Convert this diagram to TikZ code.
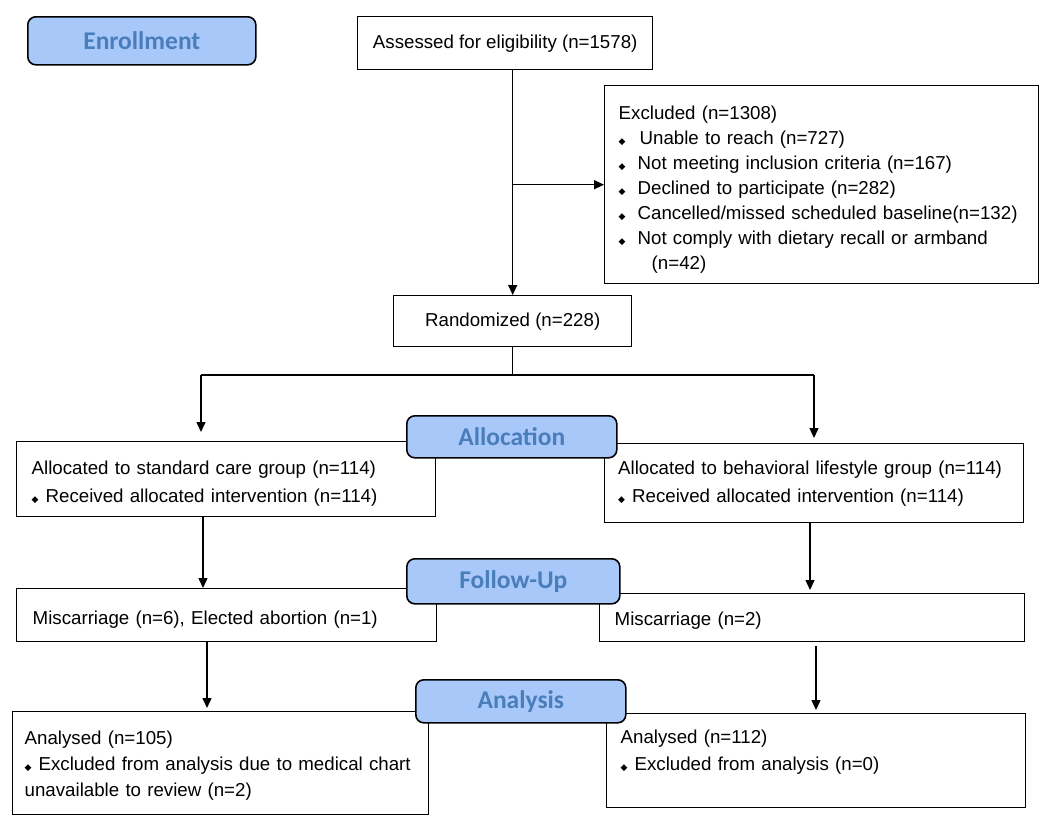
\documentclass[tikz,border=0pt]{standalone}
\usepackage{fontspec}
\setmainfont{Liberation Sans}
\newfontfamily\stagefont{Carlito}
\newfontfamily\symfont{DejaVu Sans}
\usetikzlibrary{arrows.meta}
\definecolor{stagefill}{RGB}{168,200,250}
\definecolor{stagetext}{RGB}{74,126,187}
\newcommand{\bul}[1][7pt]{{\symfont\fontsize{9}{9}\selectfont ◆}\hspace{#1}}
\newcommand{\nohyph}{\hyphenpenalty=10000\relax}
\tikzset{
  box/.style={draw, line width=1.4pt, anchor=north west, inner ysep=0pt, font=\fontsize{18.7}{25}\selectfont\nohyph},
  stage/.style={draw, line width=1.6pt, rounded corners=8pt, fill=stagefill, anchor=north west, inner sep=0pt, text=stagetext, font=\stagefont\bfseries\fontsize{25.5}{27}\selectfont},
  arr/.style={-{Triangle[length=10pt,width=9pt]}, line width=1.4pt},
  link/.style={line width=1.4pt}
}
\begin{document}
\begin{tikzpicture}[x=1pt, y=-1pt]
			\useasboundingbox (0,0) rectangle (1050,827);
			
			%%%%% boxes %%%%%
			\node[box, align=center, minimum width=295pt, minimum height=53pt] (assess) at (357,16) {Assessed for eligibility (n=1578)};
			\node[box, align=left, text width=406pt, inner xsep=14pt, minimum height=198pt] (excl) at (604,85) {\rule{0pt}{24pt}Excluded (n=1308)\\
				\bul[14pt]Unable to reach (n=727)\\
				\bul[12pt]Not meeting inclusion criteria (n=167)\\
				\bul[12pt]Declined to participate (n=282)\\
				\bul[12pt]Cancelled/missed scheduled baseline(n=132)\\
				\bul[12pt]Not comply with dietary recall or armband\\
				\hspace{33pt}(n=42)};
			\node[box, align=center, minimum width=238pt, minimum height=51pt] (rand) at (393,295) {Randomized (n=228)};
			
			\node[box, align=left, text width=389pt, inner xsep=15pt, minimum height=75pt] (std) at (16,441) {\rule{0pt}{22pt}Allocated to standard care group (n=114)\\[3pt] \bul Received allocated intervention (n=114)};
			\node[box, align=left, text width=392pt, inner xsep=13.5pt, minimum height=79pt] (beh) at (604,443) {Allocated to behavioral lifestyle group (n=114)\\[3pt] \bul Received allocated intervention (n=114)};
			
			\node[box, align=left, text width=388pt, inner xsep=16pt, minimum height=53pt] (misc1) at (16,588) {\rule{0pt}{22pt}Miscarriage (n=6), Elected abortion (n=1)};
			\node[box, align=left, text width=395pt, inner xsep=15pt, minimum height=48pt] (misc2) at (599,593) {\rule{0pt}{20pt}Miscarriage (n=2)};
			
			\node[box, align=left, text width=392pt, inner xsep=12pt, minimum height=103pt] (ana1) at (12,711) {\rule{0pt}{18pt}Analysed (n=105)\\[1pt] \bul Excluded from analysis due to medical chart\\[1pt] unavailable to review (n=2)};
			\node[box, align=left, text width=391pt, inner xsep=14pt, minimum height=94pt] (ana2) at (606,713) {Analysed (n=112)\\[2pt] \bul Excluded from analysis (n=0)\rule[-20pt]{0pt}{20pt}};
			
			%%%%% connectors %%%%%
			\draw[arr] (assess.south -| rand.north) -- (rand.north);
			\coordinate (b1) at (rand.north |- excl.west);
			\draw[arr] (b1) -- (excl.west);
			
			\coordinate (jl) at (201,375);
			\coordinate (jr) at (814,375);
			\draw[link] (rand.south) -- (rand.south |- jl);
			\draw[link] (jl) -- (jr);
			\draw[arr, shorten >=9pt] (jl) -- (jl |- std.north);
			\draw[arr, shorten >=5pt] (jr) -- (jr |- beh.north);
			
			\coordinate (cl1) at (203,0);
			\coordinate (cr1) at (810,0);
			\coordinate (cl2) at (207,0);
			\coordinate (cr2) at (816,0);
			\draw[arr] (std.south -| cl1) -- (misc1.north -| cl1);
			\draw[arr, shorten >=3pt] (beh.south -| cr1) -- (misc2.north -| cr1);
			\draw[arr, shorten >=3pt] (misc1.south -| cl2) -- (ana1.north -| cl2);
			\draw[arr, shorten <=4pt, shorten >=3pt] (misc2.south -| cr2) -- (ana2.north -| cr2);
			
			%%%%% stage labels %%%%%
			\node[stage, minimum width=228pt, minimum height=48pt] (enrol) at (27,16) {Enrollment};
			\node[stage, minimum width=210pt, minimum height=42pt] (alloc) at (406,415) {Allocation};
			\node[stage, minimum width=213pt, minimum height=45pt] (follow) at (406,558) {Follow-Up};
			\node[stage, minimum width=210pt, minimum height=43pt] (analysis) at (415,679) {Analysis};
			
		\end{tikzpicture}
\end{document}
